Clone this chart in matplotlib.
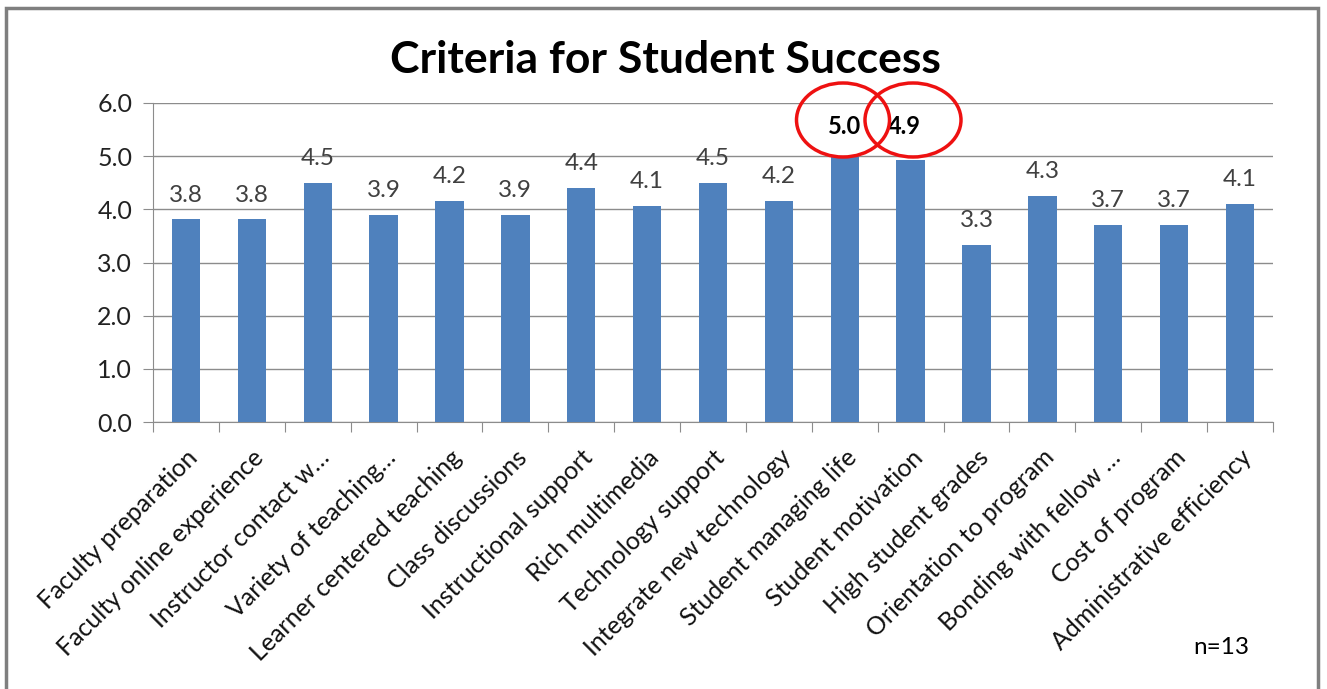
import numpy as np
import matplotlib.pyplot as plt
from matplotlib.patches import Ellipse, Rectangle

categories = ["Faculty preparation", "Faculty online experience", "Instructor contact w\u2026",
              "Variety of teaching\u2026", "Learner centered teaching", "Class discussions",
              "Instructional support", "Rich multimedia", "Technology support",
              "Integrate new technology", "Student managing life", "Student motivation",
              "High student grades", "Orientation to program", "Bonding with fellow \u2026",
              "Cost of program", "Administrative efficiency"]
values = [3.81, 3.81, 4.50, 3.89, 4.16, 3.89, 4.40, 4.07, 4.50, 4.16, 5.00, 4.92,
          3.33, 4.26, 3.71, 3.71, 4.10]
circled = [10, 11]

plt.rcParams['font.family'] = ['Lato', 'DejaVu Sans']
W, H = 1327, 689
fig = plt.figure(figsize=(W / 100, H / 100), dpi=100)
ax = fig.add_axes([153 / W, 1 - 422 / H, (1273 - 153) / W, (422 - 103) / H])

x = np.arange(len(categories))
ax.bar(x, values, width=0.43, color='#4f81bd', zorder=3)
ax.set_xlim(-0.5, len(categories) - 0.5)
ax.set_ylim(0, 6)
ax.set_yticks(np.arange(0, 7, 1.0))
ax.set_yticklabels([f"{v:.1f}" for v in np.arange(0, 7, 1.0)], fontsize=18, color='#222222')
ax.yaxis.grid(True, color='#8c8c8c', lw=1, zorder=0)
for s in ['top', 'right']:
    ax.spines[s].set_visible(False)
for s in ['left', 'bottom']:
    ax.spines[s].set_color('#8c8c8c')
ax.tick_params(axis='y', length=7, color='#8c8c8c', pad=8)

# category ticks at boundaries, labels at centers
ax.set_xticks(np.arange(-0.5, len(categories)), minor=False)
ax.set_xticklabels([])
ax.tick_params(axis='x', length=7, color='#8c8c8c')
ax.set_xticks(x, minor=True)
ax.set_xticklabels(categories, minor=True, rotation=45, ha='right',
                   rotation_mode='anchor', fontsize=18, color='#111111')
ax.tick_params(axis='x', which='minor', length=0, pad=17)

for i, v in enumerate(values):
    if i in circled:
        continue
    ax.text(i, v + 0.26, f"{v:.1f}", ha='center', va='bottom', fontsize=17.5, color='#404040')

# circled highlights
ax.text(10, 5.55, f"{values[10]:.1f}", ha='center', va='center', fontsize=17,
        fontweight='bold', color='black', zorder=6)
ax.text(10.9, 5.55, f"{values[11]:.1f}", ha='center', va='center', fontsize=17,
        fontweight='bold', color='black', zorder=6)
fig.patches.append(Ellipse((843 / W, 1 - 120 / H), 93 / W, 74 / H, transform=fig.transFigure,
                           fill=False, ec='#ee1111', lw=2.5, zorder=5))
fig.patches.append(Ellipse((913 / W, 1 - 120 / H), 96 / W, 74 / H, transform=fig.transFigure,
                           fill=False, ec='#ee1111', lw=2.5, zorder=5))

fig.text(665 / W, 1 - 60 / H, "Criteria for Student Success", ha='center', va='center',
         fontsize=32, fontweight='bold', color='black')
fig.text(1221 / W, 1 - 648 / H, "n=13", ha='center', va='center', fontsize=17.5, color='black')

# outer frame
fig.patches.append(Rectangle((6 / W, -0.05), (1318 - 6) / W, 1.05 - 8 / H,
                             transform=fig.transFigure, fill=False, ec='#7f7f7f', lw=2.5))

fig.savefig('out.png', dpi=100)
